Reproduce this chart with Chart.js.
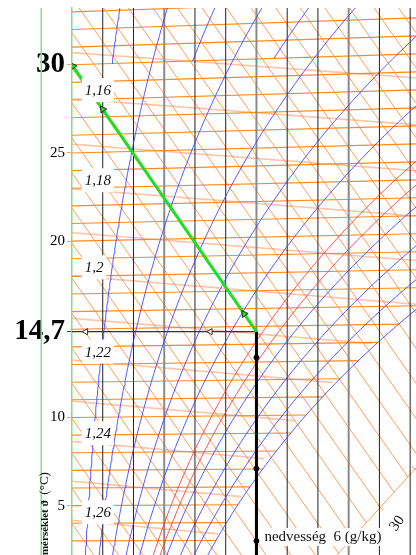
<!DOCTYPE html>
<html>
<head>
<meta charset="utf-8">
<script src="https://cdn.jsdelivr.net/npm/chart.js@4.4.1/dist/chart.umd.min.js"></script>
<style>
  body { margin: 0; background: #fff; }
  #wrap { width: 416px; height: 555px; position: relative; }
</style>
</head>
<body>
<div id="wrap"><canvas id="hx"></canvas></div>
<script>
// h-x (Mollier) diagram, detail: 30 °C dry air humidified to 6 g/kg
const P = 101.325;      // kPa, saturation / phi lines
const P_RHO = 100.3;    // kPa, density lines
const X_MIN = 0, X_MAX = 11.19;   // g/kg
const Y_MIN = 2.2, Y_MAX = 33.22; // °C (at x = 0)

const tempTicks = [5, 10, 20, 25, 30];
const isoTemps = [3, 4, 5, 6, 7, 8, 9, 10, 11, 12, 13, 14, 15, 16, 17, 18, 19, 20,
                  21, 22, 23, 24, 25, 26, 27, 28, 29, 30, 31, 32, 33];
const moistLines = [1, 2, 3, 4, 5, 6, 7, 8, 9, 10, 11];
const enthalpies = [2, 4, 6, 8, 10, 12, 14, 16, 18, 20, 22, 24, 26, 28, 30, 32, 34, 36,
                    38, 40, 42, 44, 46, 48, 50, 52, 54, 56, 58, 60, 62];
const phiBlue = [0.1, 0.2, 0.3, 0.4, 0.5, 0.7, 0.8, 0.9, 1.0];
const phiRed = [0.6, 0.65];
const phiUpper = [0.05, 0.15, 0.25];   // only drawn above 30 °C
const densities = [1.15, 1.16, 1.17, 1.18, 1.19, 1.2, 1.21, 1.22, 1.23, 1.24, 1.25, 1.26, 1.27, 1.28, 1.29];
const densityLabels = [1.16, 1.18, 1.2, 1.22, 1.24, 1.26];

const startT = 30, startX = 0;
const endT = 14.7, endX = 6;
const greenArrowsX = [0.03, 1.0, 5.6];
const horizArrowsX = [0.45, 4.5];
const vertMarks = [13.4, 7.1, 3.0];
const hScaleTicks = [30, 35];
const hScaleLabel = 30;

// oblique enthalpy scale line  y = a*x + b
const hAxisA = 1.921, hAxisB = -14.36;

function ps(T) { return 0.61094 * Math.exp(17.625 * T / (T + 243.04)); }
function xOf(phi, T) { const p = phi * ps(T); return 622 * p / (P - p); }
function yOf(T, x) { return T * (1 + 0.001849 * x); }
function yH(h, x) { return (h - 2.501 * x) / 1.006; }
function tRho(rho, x) {
  const xk = x / 1000;
  return P_RHO * 1000 * (1 + xk) / (287.05 * rho * (1 + 1.608 * xk)) - 273.15;
}
function hAxisX(h) { return (h - 1.006 * hAxisB) / (2.501 + 1.006 * hAxisA); }

const datasets = [];
function line(data, color, width, order, extra) {
  datasets.push(Object.assign({ data, borderColor: color, borderWidth: width, order,
    pointRadius: 0, showLine: true, fill: false }, extra || {}));
}

densities.forEach(r => {
  const pts = [];
  for (let x = 0; x <= X_MAX + 0.5; x += 0.25) {
    const T = tRho(r, x);
    if (x > xOf(1, T)) break;
    pts.push({ x, y: yOf(T, x) });
  }
  line(pts, 'rgba(255,170,130,0.7)', 1.6, 10);
});

isoTemps.forEach(T => {
  const xe = Math.min(xOf(1, T), X_MAX + 0.5);
  line([{ x: 0, y: T }, { x: xe, y: yOf(T, xe) }], '#ff8a1c', 1.1, 9);
});

enthalpies.forEach(h => {
  const xe = Math.min(hAxisX(h), X_MAX + 0.5);
  line([{ x: 0, y: yH(h, 0) }, { x: xe, y: yH(h, xe) }], 'rgba(255,140,60,0.85)', 1, 8);
});

line([{ x: hAxisX(0), y: hAxisA * hAxisX(0) + hAxisB }, { x: X_MAX + 0.5, y: hAxisA * (X_MAX + 0.5) + hAxisB }],
  'rgba(255,140,60,0.85)', 1, 8);
datasets.push({ data: hScaleTicks.map(h => ({ x: hAxisX(h), y: hAxisA * hAxisX(h) + hAxisB })),
  showLine: false, pointStyle: 'line', pointRadius: 4, pointRotation: 42,
  borderColor: 'rgba(255,140,60,0.9)', borderWidth: 1, order: 8 });

moistLines.forEach(x => {
  const grey = x % 3 === 0;
  line([{ x, y: Y_MIN - 1 }, { x, y: Y_MAX + 1 }], grey ? '#8a8a8a' : '#222', grey ? 2 : 1, 7);
});

function phiCurve(phi, tFrom, color) {
  const pts = [];
  for (let T = tFrom; T <= 36; T += 0.25) {
    const x = xOf(phi, T);
    if (x > 14) break;
    pts.push({ x, y: yOf(T, x) });
  }
  line(pts, color, 1, 6);
}
phiBlue.forEach(f => phiCurve(f, 0, 'rgba(60,60,255,0.85)'));
phiUpper.forEach(f => phiCurve(f, 30, 'rgba(60,60,255,0.85)'));
phiRed.forEach(f => phiCurve(f, 0, 'rgba(255,50,50,0.85)'));

const yEnd = yOf(endT, endX);
const yStart = yOf(startT, startX);
line([{ x: startX, y: yStart }, { x: endX, y: yEnd }], '#22dd22', 3, 3);
line([{ x: 0, y: yEnd }, { x: endX, y: yEnd }], '#333', 1.3, 3);
line([{ x: endX, y: yEnd }, { x: endX, y: Y_MIN - 1 }], '#000', 3, 3);

datasets.push({ data: greenArrowsX.map(x => ({ x, y: yStart + (yEnd - yStart) * (x - startX) / (endX - startX) })),
  showLine: false, pointStyle: 'triangle', pointRadius: 4, pointRotation: -35,
  backgroundColor: '#22dd22', borderColor: '#222', borderWidth: 1, order: 1 });
datasets.push({ data: horizArrowsX.map(x => ({ x, y: yEnd })),
  showLine: false, pointStyle: 'triangle', pointRadius: 3.5, pointRotation: -90,
  backgroundColor: '#fff', borderColor: '#333', borderWidth: 1, order: 1 });
datasets.push({ data: vertMarks.map(y => ({ x: endX, y })),
  showLine: false, pointStyle: 'circle', pointRadius: 2.5,
  backgroundColor: '#000', borderColor: '#000', order: 1 });

const labelPlugin = {
  id: 'labels',
  afterDatasetsDraw(chart) {
    const { ctx, chartArea } = chart;
    const xs = chart.scales.x, ys = chart.scales.y;
    ctx.save();
    // outer frame line
    ctx.strokeStyle = '#80e080';
    ctx.lineWidth = 1.5;
    ctx.beginPath();
    ctx.moveTo(xs.getPixelForValue(-1), chartArea.top);
    ctx.lineTo(xs.getPixelForValue(-1), chartArea.bottom);
    ctx.stroke();

    // density labels along x = 1 g/kg
    ctx.font = 'italic 15px "Liberation Serif"';
    ctx.textBaseline = 'middle';
    ctx.textAlign = 'left';
    densityLabels.forEach(r => {
      const px = xs.getPixelForValue(1) - 18;
      const py = ys.getPixelForValue(yOf(tRho(r, 1), 1)) - 11;
      const txt = String(r).replace('.', ',');
      const w = ctx.measureText(txt).width;
      ctx.fillStyle = '#fff';
      ctx.fillRect(px - 3, py - 12, w + 6, 24);
      ctx.fillStyle = '#111';
      ctx.fillText(txt, px, py + 1);
    });

    // moisture label
    ctx.font = '15px "Liberation Serif"';
    const mx = xs.getPixelForValue(endX) + 8, my = chartArea.bottom - 18;
    const mt = 'nedvesség  6 (g/kg)';
    ctx.fillStyle = '#fff';
    ctx.fillRect(mx - 2, my - 9, ctx.measureText(mt).width + 4, 18);
    ctx.fillStyle = '#111';
    ctx.fillText(mt, mx, my);

    // enthalpy scale label
    const hx = hAxisX(hScaleLabel);
    ctx.save();
    ctx.translate(xs.getPixelForValue(hx) + 17, ys.getPixelForValue(hAxisA * hx + hAxisB) + 16);
    ctx.rotate(-55 * Math.PI / 180);
    ctx.textAlign = 'center';
    ctx.font = '15px "Liberation Serif"';
    ctx.fillText(String(hScaleLabel), 0, 0);
    ctx.restore();

    // temperature axis title
    ctx.save();
    ctx.translate(45, ys.getPixelForValue(6.9));
    ctx.rotate(-Math.PI / 2);
    ctx.textAlign = 'right';
    ctx.fillStyle = '#111';
    ctx.font = '13px "Liberation Serif"';
    const unit = ' (°C)';
    ctx.fillText(unit, 0, 0);
    const uw = ctx.measureText(unit).width;
    ctx.font = 'bold 11px "Liberation Serif"';
    ctx.fillText('hőmérséklet \u03D1', -uw - 2, 0);
    ctx.restore();
    ctx.restore();
  }
};

const yTicks = tempTicks.concat([yEnd]).sort((a, b) => a - b);
const big = v => v === startT || v === yEnd;

new Chart(document.getElementById('hx'), {
  type: 'scatter',
  data: { datasets },
  options: {
    responsive: true,
    maintainAspectRatio: false,
    animation: false,
    events: [],
    layout: { autoPadding: false, padding: { top: 8, left: 0, right: 0, bottom: 0 } },
    plugins: { legend: { display: false }, tooltip: { enabled: false } },
    scales: {
      x: { type: 'linear', min: X_MIN, max: X_MAX, display: false },
      y: {
        type: 'linear', min: Y_MIN, max: Y_MAX,
        afterBuildTicks: s => { s.ticks = yTicks.map(v => ({ value: v })); },
        afterFit: s => { s.width = 72; s.paddingTop = 0; s.paddingBottom = 0; },
        border: { color: '#80e080', width: 1.5 },
        grid: {
          drawOnChartArea: false, tickLength: 5,
          color: c => (c.tick && c.tick.value === yEnd) ? '#333' : '#ffa060'
        },
        ticks: {
          autoSkip: false, padding: 2, color: '#000',
          callback: v => v === yEnd ? String(endT).replace('.', ',') : v,
          font: c => big(c.tick && c.tick.value)
            ? { family: 'Liberation Serif', size: 29, weight: 'bold' }
            : { family: 'Liberation Serif', size: 15 }
        }
      }
    }
  },
  plugins: [labelPlugin]
});
</script>
</body>
</html>
